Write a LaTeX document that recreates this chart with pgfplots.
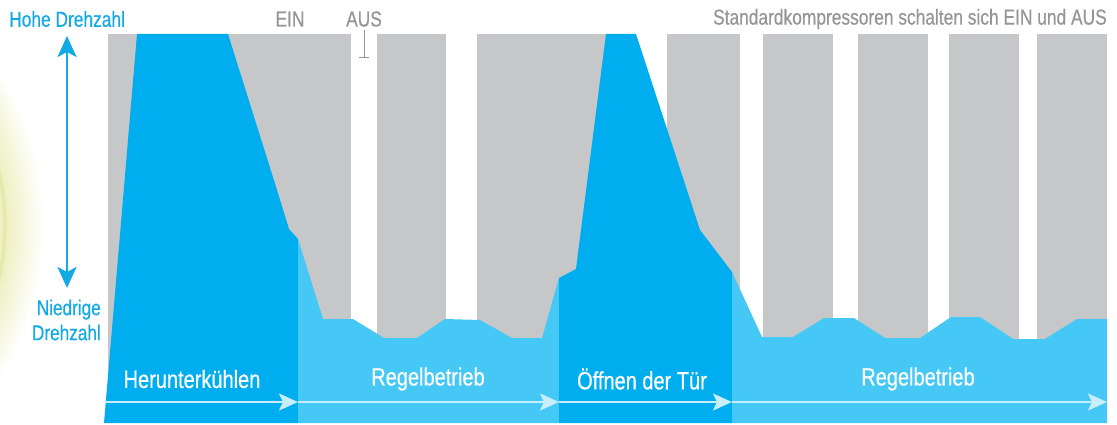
\documentclass[border=0pt]{standalone}
\usepackage{fontspec}
\setmainfont{Liberation Sans}[FakeStretch=0.8, FakeBold=0.4]
\usepackage{pgfplots}
\pgfplotsset{compat=1.18}
\usetikzlibrary{arrows.meta}
\definecolor{dblue}{HTML}{00AEEF}
\definecolor{lblue}{HTML}{45C8F5}
\definecolor{bgray}{HTML}{C6C7C9}
\definecolor{tgray}{HTML}{939598}
\definecolor{lbl}{HTML}{12A9E4}
\definecolor{arr}{HTML}{C8EEFC}
\definecolor{glowc}{HTML}{EEF1C4}
\definecolor{ringc}{HTML}{E2E6A4}
\pgfdeclareradialshading{glow}{\pgfpoint{0bp}{0bp}}{color(0bp)=(white!50!glowc); color(17.9bp)=(white!40!glowc); color(20.9bp)=(glowc); color(21.1bp)=(ringc); color(21.35bp)=(glowc); color(24.4bp)=(white); color(50bp)=(white)}
\begin{document}
\begin{tikzpicture}
\begin{scope}
\clip (0,0) rectangle (1117pt,424pt);
\shade[shading=glow] (-249pt,199pt) circle (300pt);
\end{scope}
\begin{axis}[at={(0,0)}, anchor=south west, width=1117pt, height=424pt,
  scale only axis, xmin=0, xmax=1117, ymin=0, ymax=424, hide axis, clip=false]
% gray bars (standard compressor ON phases)
\addplot[fill=bgray, draw=none] coordinates {(108,1) (108,390) (351,390) (351,1)} --cycle;
\addplot[fill=bgray, draw=none] coordinates {(377,1) (377,390) (446,390) (446,1)} --cycle;
\addplot[fill=bgray, draw=none] coordinates {(477,1) (477,390) (630,390) (630,1)} --cycle;
\addplot[fill=bgray, draw=none] coordinates {(667,1) (667,390) (740,390) (740,1)} --cycle;
\addplot[fill=bgray, draw=none] coordinates {(763,1) (763,390) (833,390) (833,1)} --cycle;
\addplot[fill=bgray, draw=none] coordinates {(858,1) (858,390) (928,390) (928,1)} --cycle;
\addplot[fill=bgray, draw=none] coordinates {(949,1) (949,390) (1019,390) (1019,1)} --cycle;
\addplot[fill=bgray, draw=none] coordinates {(1037,1) (1037,390) (1107,390) (1107,1)} --cycle;
% blue profiles
\addplot[fill=dblue, draw=none] coordinates {(104,1) (137,390) (228,390) (277,234) (289,195) (298,185) (298,1)} --cycle;
\addplot[fill=lblue, draw=none] coordinates {(298,1) (298,185) (323,105) (353,105) (384,86) (417,86) (445,105) (480,104) (512,86) (542,86) (559,146) (559,1)} --cycle;
\addplot[fill=dblue, draw=none] coordinates {(559,1) (559,146) (576,155) (606,390) (636,390) (700,194) (732,152) (732,1)} --cycle;
\addplot[fill=lblue, draw=none] coordinates {(732,1) (732,152) (762,87) (793,87) (824,106) (854,106) (885,86) (920,86) (951,107) (980,107) (1013,85) (1045,85) (1077,105) (1107,105) (1107,1)} --cycle;
% phase arrows
\draw[arr, line width=2.2pt, -{Stealth[length=19pt,width=17pt,inset=4pt]}] (axis cs:105,22) -- (axis cs:298,22);
\draw[arr, line width=2.2pt, -{Stealth[length=19pt,width=17pt,inset=4pt]}] (axis cs:298,22) -- (axis cs:559,22);
\draw[arr, line width=2.2pt, -{Stealth[length=19pt,width=17pt,inset=4pt]}] (axis cs:559,22) -- (axis cs:732,22);
\draw[arr, line width=2.2pt, -{Stealth[length=19pt,width=17pt,inset=4pt]}] (axis cs:732,22) -- (axis cs:1107,22);
% phase labels
\node[white, font=\fontsize{25}{28}\selectfont] at (axis cs:192,45) {Herunterkühlen};
\node[white, font=\fontsize{25}{28}\selectfont] at (axis cs:428,45) {Regelbetrieb};
\node[white, font=\fontsize{25}{28}\selectfont] at (axis cs:642,45) {Öffnen der Tür};
\node[white, font=\fontsize{25}{28}\selectfont] at (axis cs:918,45) {Regelbetrieb};
% top labels
\node[lbl, anchor=west, font=\fontsize{21.7}{24}\selectfont, inner sep=0pt] at (axis cs:9,405) {Hohe Drehzahl};
\node[tgray, font=\fontsize{21.7}{24}\selectfont, inner sep=0pt] at (axis cs:290,405) {EIN};
\node[tgray, font=\fontsize{21.7}{24}\selectfont, inner sep=0pt] at (axis cs:364,405) {AUS};
\node[tgray, anchor=east, font=\fontsize{21.7}{24}\selectfont, inner sep=0pt] at (axis cs:1107,405) {Standardkompressoren schalten sich EIN und AUS};
\draw[tgray, line width=1pt] (axis cs:364,394) -- (axis cs:364,366) (axis cs:359,366) -- (axis cs:369,366);
% speed axis
\draw[lbl, line width=2.6pt, {Stealth[length=21pt,width=19pt,inset=5pt]}-{Stealth[length=21pt,width=19pt,inset=5pt]}] (axis cs:67,388) -- (axis cs:67,136);
\node[lbl, anchor=east, align=right, font=\fontsize{21.5}{25}\selectfont, inner sep=0pt] at (axis cs:101,104) {Niedrige\\Drehzahl};
\end{axis}
\end{tikzpicture}
\end{document}
